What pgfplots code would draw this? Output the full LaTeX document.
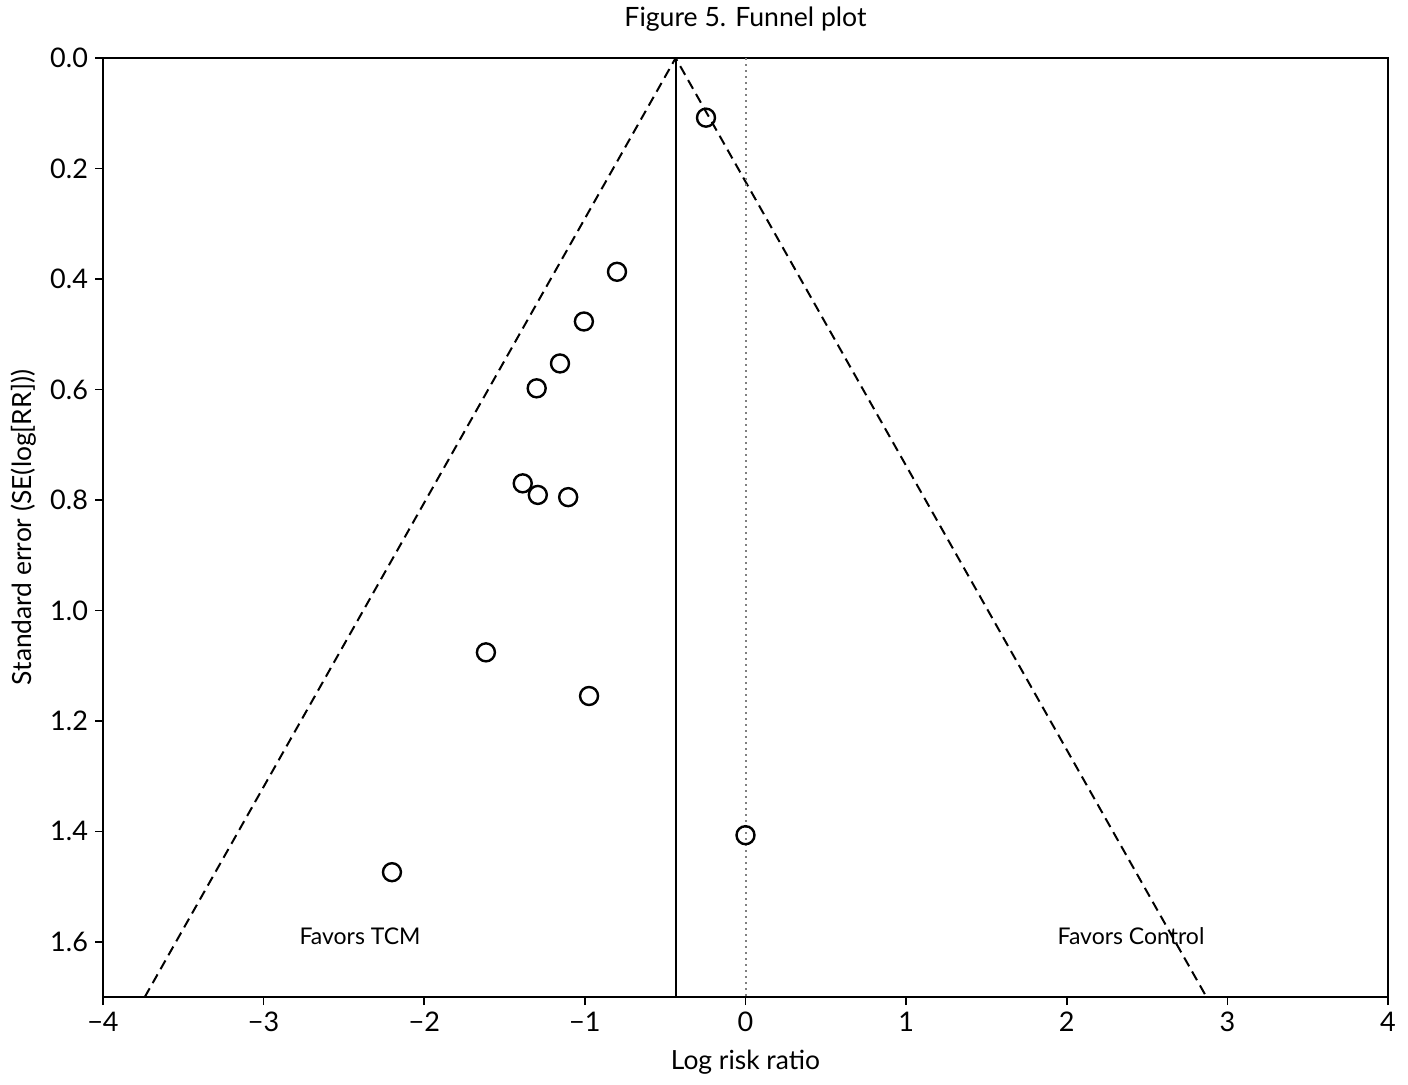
\documentclass[border=0pt]{standalone}
\usepackage{pgfplots}
\pgfplotsset{compat=1.18}
\usepackage{fontspec}
\setmainfont{Lato}
\begin{document}
\begin{tikzpicture}
\begin{axis}[
  scale only axis,
  width=642.5pt, height=469.5pt,
  xmin=-4, xmax=4, ymin=0, ymax=1.7,
  y dir=reverse,
  axis line style={line width=0.8pt},
  xtick={-4,-3,-2,-1,0,1,2,3,4},
  xticklabels={−4,−3,−2,−1,0,1,2,3,4},
  ytick={0,0.2,0.4,0.6,0.8,1.0,1.2,1.4,1.6},
  tick align=outside, tick pos=left,
  major tick length=4pt,
  every tick/.style={black, line width=0.8pt},
  /pgf/number format/assume math mode=true,
  yticklabel style={/pgf/number format/.cd, fixed, fixed zerofill, precision=1},
  ticklabel style={font=\fontsize{13.5}{15}\selectfont},
  xlabel={Log risk ratio},
  ylabel={Standard error (SE(log[RR]))},
  xlabel style={font=\fontsize{13.2}{15}\selectfont, yshift=-2pt},
  ylabel style={font=\fontsize{13.2}{15}\selectfont},
  title={Figure 5. Funnel plot},
  title style={font=\fontsize{13.3}{15}\selectfont, yshift=4pt},
  clip=true,
]
\coordinate (bl) at (axis cs:-4,1.7);
\coordinate (tr) at (axis cs:4,0);
\addplot[black, dashed, line width=1pt, dash pattern=on 5pt off 3pt] coordinates {(-3.74,1.7) (-0.435,0) (2.87,1.7)};
\addplot[black, line width=1pt] coordinates {(-0.435,0) (-0.435,1.7)};
\addplot[gray, dotted, line width=1pt] coordinates {(0,0) (0,1.7)};
\addplot[only marks, mark=o, mark size=4.5pt, mark options={line width=1.2pt, black}] coordinates {
(-0.246,0.108)
(-0.800,0.387)
(-1.006,0.477)
(-1.155,0.553)
(-1.300,0.598)
(-1.387,0.770)
(-1.293,0.791)
(-1.104,0.795)
(-1.616,1.076)
(-0.974,1.155)
(0.000,1.407)
(-2.201,1.474)
};
\node[font=\fontsize{11.5}{13}\selectfont] at (axis cs:-2.40,1.59) {Favors TCM};
\node[font=\fontsize{11.5}{13}\selectfont] at (axis cs:2.40,1.59) {Favors Control};
\end{axis}
\pgfresetboundingbox
\path ([shift={(-51.5pt,-43.5pt)}]bl) rectangle ([shift={(10pt,29pt)}]tr);
\end{tikzpicture}
\end{document}
